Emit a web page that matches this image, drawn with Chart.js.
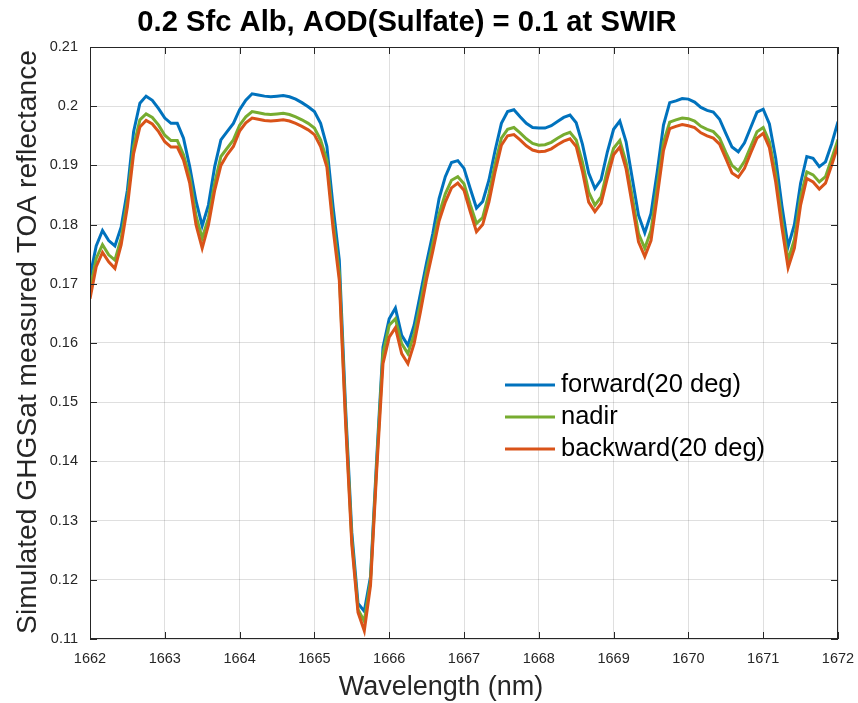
<!DOCTYPE html>
<html>
<head>
<meta charset="utf-8">
<script src="https://cdn.jsdelivr.net/npm/chart.js@4/dist/chart.umd.min.js"></script>
<style>
html,body{margin:0;padding:0;background:#fff;}
#wrap{width:858px;height:703px;}
</style>
</head>
<body>
<div id="wrap"><canvas id="c" width="858" height="703" style="width:858px;height:703px"></canvas></div>
<script>
const titleText = '0.2 Sfc Alb, AOD(Sulfate) = 0.1 at SWIR';
const xTitle = 'Wavelength (nm)';
const yTitle = 'Simulated GHGSat measured TOA reflectance';
const seriesNames = ['forward(20 deg)', 'nadir', 'backward(20 deg)'];
const xTicks = [1662,1663,1664,1665,1666,1667,1668,1669,1670,1671,1672];
const yTicks = [0.11,0.12,0.13,0.14,0.15,0.16,0.17,0.18,0.19,0.2,0.21];

const wavelength = [
1662.000,1662.083,1662.167,1662.250,1662.333,1662.417,1662.500,1662.583,1662.667,1662.750,1662.833,1662.917,
1663.000,1663.083,1663.167,1663.250,1663.333,1663.417,1663.500,1663.583,1663.667,1663.750,1663.833,1663.917,
1664.000,1664.083,1664.167,1664.250,1664.333,1664.417,1664.500,1664.583,1664.667,1664.750,1664.833,1664.917,
1665.000,1665.083,1665.167,1665.250,1665.333,1665.417,1665.500,1665.583,1665.667,1665.750,1665.833,1665.917,
1666.000,1666.083,1666.167,1666.250,1666.333,1666.417,1666.500,1666.583,1666.667,1666.750,1666.833,1666.917,
1667.000,1667.083,1667.167,1667.250,1667.333,1667.417,1667.500,1667.583,1667.667,1667.750,1667.833,1667.917,
1668.000,1668.083,1668.167,1668.250,1668.333,1668.417,1668.500,1668.583,1668.667,1668.750,1668.833,1668.917,
1669.000,1669.083,1669.167,1669.250,1669.333,1669.417,1669.500,1669.583,1669.667,1669.750,1669.833,1669.917,
1670.000,1670.083,1670.167,1670.250,1670.333,1670.417,1670.500,1670.583,1670.667,1670.750,1670.833,1670.917,
1671.000,1671.083,1671.167,1671.250,1671.333,1671.417,1671.500,1671.583,1671.667,1671.750,1671.833,1671.917,
1672.000];

const forward = [
0.1712,0.1764,0.1790,0.1773,0.1764,0.1796,0.1858,0.1957,0.2005,0.2017,0.2010,0.1996,
0.1980,0.1971,0.1971,0.1946,0.1898,0.1840,0.1798,0.1833,0.1898,0.1943,0.1957,0.1971,
0.1994,0.2010,0.2021,0.2019,0.2017,0.2016,0.2017,0.2018,0.2016,0.2012,0.2006,0.1999,
0.1991,0.1971,0.1932,0.1830,0.1740,0.1490,0.1280,0.1160,0.1147,0.1205,0.1405,0.1593,
0.1641,0.1659,0.1613,0.1596,0.1630,0.1683,0.1736,0.1785,0.1844,0.1881,0.1905,0.1908,
0.1895,0.1861,0.1828,0.1839,0.1875,0.1926,0.1971,0.1991,0.1994,0.1982,0.1971,0.1964,
0.1963,0.1963,0.1967,0.1974,0.1981,0.1985,0.1972,0.1936,0.1887,0.1861,0.1876,0.1923,
0.1961,0.1975,0.1940,0.1878,0.1816,0.1786,0.1819,0.1889,0.1968,0.2006,0.2009,0.2013,
0.2012,0.2007,0.1998,0.1993,0.1990,0.1978,0.1954,0.1931,0.1923,0.1938,0.1964,0.1990,
0.1995,0.1970,0.1912,0.1832,0.1763,0.1800,0.1870,0.1915,0.1912,0.1898,0.1906,0.1937,
0.1974];

const nadir = [
0.1690,0.1743,0.1766,0.1749,0.1740,0.1777,0.1842,0.1932,0.1977,0.1987,0.1981,0.1968,
0.1951,0.1942,0.1942,0.1918,0.1881,0.1815,0.1777,0.1811,0.1870,0.1915,0.1929,0.1943,
0.1968,0.1982,0.1991,0.1989,0.1987,0.1986,0.1987,0.1988,0.1986,0.1982,0.1977,0.1971,
0.1963,0.1943,0.1909,0.1805,0.1718,0.1475,0.1268,0.1150,0.1130,0.1198,0.1395,0.1582,
0.1630,0.1641,0.1599,0.1582,0.1615,0.1666,0.1722,0.1768,0.1818,0.1852,0.1875,0.1881,
0.1869,0.1834,0.1802,0.1812,0.1852,0.1903,0.1946,0.1961,0.1964,0.1955,0.1945,0.1937,
0.1934,0.1935,0.1939,0.1946,0.1952,0.1956,0.1943,0.1906,0.1855,0.1833,0.1847,0.1893,
0.1929,0.1942,0.1905,0.1847,0.1785,0.1760,0.1790,0.1864,0.1939,0.1973,0.1977,0.1980,
0.1979,0.1975,0.1966,0.1961,0.1957,0.1946,0.1922,0.1900,0.1891,0.1907,0.1932,0.1957,
0.1964,0.1940,0.1885,0.1808,0.1740,0.1775,0.1847,0.1889,0.1884,0.1872,0.1881,0.1912,
0.1944];

const backward = [
0.1675,0.1729,0.1753,0.1737,0.1726,0.1766,0.1830,0.1920,0.1965,0.1976,0.1970,0.1957,
0.1940,0.1931,0.1931,0.1909,0.1870,0.1800,0.1760,0.1799,0.1858,0.1900,0.1918,0.1932,
0.1958,0.1972,0.1980,0.1978,0.1976,0.1975,0.1976,0.1977,0.1975,0.1971,0.1966,0.1960,
0.1952,0.1932,0.1897,0.1793,0.1706,0.1465,0.1260,0.1145,0.1114,0.1190,0.1385,0.1565,
0.1610,0.1626,0.1582,0.1565,0.1599,0.1652,0.1708,0.1755,0.1806,0.1838,0.1862,0.1870,
0.1858,0.1822,0.1788,0.1800,0.1838,0.1890,0.1934,0.1950,0.1952,0.1943,0.1933,0.1926,
0.1923,0.1924,0.1928,0.1935,0.1941,0.1945,0.1932,0.1890,0.1838,0.1822,0.1836,0.1879,
0.1918,0.1931,0.1894,0.1833,0.1771,0.1746,0.1773,0.1847,0.1925,0.1962,0.1966,0.1969,
0.1967,0.1964,0.1955,0.1950,0.1946,0.1936,0.1912,0.1887,0.1880,0.1895,0.1921,0.1946,
0.1954,0.1930,0.1872,0.1795,0.1727,0.1760,0.1833,0.1878,0.1872,0.1860,0.1870,0.1901,
0.1934];

const colors = ['#0072BD', '#77AC30', '#D95319'];
const FONT = '"Liberation Sans", Arial, Helvetica, sans-serif';
const TXT = '#262626';

function pts(arr){ return wavelength.map((w,i)=>({x:w, y:arr[i]})); }

const decor = {
  id: 'decor',
  afterDatasetsDraw(chart){
    const ctx = chart.ctx, a = chart.chartArea;
    const xs = chart.scales.x, ys = chart.scales.y;
    ctx.save();
    ctx.strokeStyle = TXT; ctx.lineWidth = 1;
    ctx.strokeRect(Math.round(a.left)+0.5, Math.round(a.top)+0.5, Math.round(a.right-a.left)-1, Math.round(a.bottom-a.top)-1);
    const tl = 7;
    ctx.beginPath();
    xTicks.forEach(v=>{
      const px = Math.round(xs.getPixelForValue(v))+0.5;
      ctx.moveTo(px, a.bottom); ctx.lineTo(px, a.bottom-tl);
      ctx.moveTo(px, a.top); ctx.lineTo(px, a.top+tl);
    });
    yTicks.forEach(v=>{
      const py = Math.round(ys.getPixelForValue(v))+0.5;
      ctx.moveTo(a.left, py); ctx.lineTo(a.left+tl, py);
      ctx.moveTo(a.right, py); ctx.lineTo(a.right-tl, py);
    });
    ctx.stroke();
    const lx0 = 505, lx1 = 555, ly = [385, 417, 449];
    ctx.font = '25.5px ' + FONT;
    ctx.textBaseline = 'middle'; ctx.textAlign = 'left';
    seriesNames.forEach((n,i)=>{
      ctx.strokeStyle = colors[i]; ctx.lineWidth = 3;
      ctx.beginPath(); ctx.moveTo(lx0, ly[i]); ctx.lineTo(lx1, ly[i]); ctx.stroke();
      ctx.fillStyle = '#000';
      ctx.fillText(n, 561, ly[i]);
    });
    ctx.fillStyle = '#000';
    ctx.font = 'bold 29.2px ' + FONT;
    ctx.textAlign = 'center';
    ctx.fillText(titleText, 407, 23);
    ctx.fillStyle = TXT;
    ctx.font = '27px ' + FONT;
    ctx.fillText(xTitle, 441, 688);
    ctx.translate(28, 342);
    ctx.rotate(-Math.PI/2);
    ctx.font = '28.2px ' + FONT;
    ctx.fillText(yTitle, 0, 0);
    ctx.restore();
  }
};

new Chart(document.getElementById('c'), {
  type: 'line',
  data: {
    datasets: [
      {label: seriesNames[0], data: pts(forward), borderColor: colors[0], borderWidth: 3, pointRadius: 0, tension: 0, fill: false, order: 3},
      {label: seriesNames[1], data: pts(nadir), borderColor: colors[1], borderWidth: 3, pointRadius: 0, tension: 0, fill: false, order: 2},
      {label: seriesNames[2], data: pts(backward), borderColor: colors[2], borderWidth: 3, pointRadius: 0, tension: 0, fill: false, order: 1}
    ]
  },
  options: {
    responsive: false,
    animation: false,
    events: [],
    layout: {padding: {top: 47, right: 20, left: 0, bottom: 0}},
    plugins: {legend: {display: false}, tooltip: {enabled: false}, title: {display: false}},
    scales: {
      x: {
        type: 'linear', min: 1662, max: 1672,
        afterBuildTicks: s => { s.ticks = xTicks.map(v => ({value: v})); },
        afterFit: s => { s.height = 64; s.paddingLeft = 0; s.paddingRight = 0; },
        ticks: {font: {family: FONT, size: 14.5}, color: TXT, padding: 11, maxRotation: 0, autoSkip: false,
                callback: v => String(v)},
        grid: {color: 'rgba(38,38,38,0.15)', lineWidth: 1, drawTicks: false},
        border: {display: false}
      },
      y: {
        type: 'linear', min: 0.11, max: 0.21,
        afterBuildTicks: s => { s.ticks = yTicks.map(v => ({value: v})); },
        afterFit: s => { s.width = 90; s.paddingTop = 0; s.paddingBottom = 0; },
        ticks: {font: {family: FONT, size: 14.5}, color: TXT, padding: 12, autoSkip: false,
                callback: v => String(parseFloat(Number(v).toFixed(2)))},
        grid: {color: 'rgba(38,38,38,0.15)', lineWidth: 1, drawTicks: false},
        border: {display: false}
      }
    }
  },
  plugins: [decor]
});
</script>
</body>
</html>
